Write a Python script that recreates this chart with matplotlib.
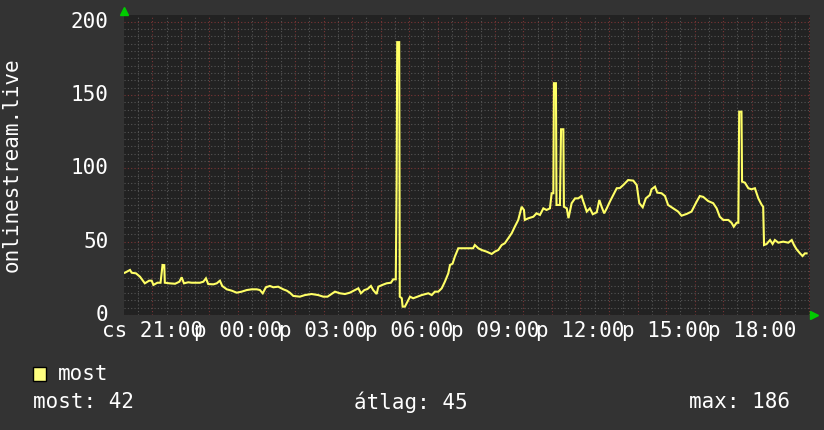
import matplotlib.pyplot as plt
from matplotlib.ticker import MultipleLocator

# time in hours counted from Thursday 00:00 (24 = Friday 00:00)
hours = [20.04, 20.22, 20.28, 20.43, 20.57, 20.74, 20.89, 20.98, 21.04, 21.18,
         21.29, 21.36, 21.42, 21.44, 21.60, 21.80, 21.95, 22.03, 22.11, 22.26,
         22.38, 22.67, 22.79, 22.88, 22.96, 23.14, 23.26, 23.37, 23.45, 23.61,
         23.78, 23.96, 24.13, 24.31, 24.48, 24.66, 24.77, 24.87, 24.98, 25.12,
         25.24, 25.41, 25.59, 25.71, 25.82, 25.94, 26.17, 26.35, 26.58, 26.81,
         26.99, 27.14, 27.28, 27.40, 27.57, 27.75, 27.92, 28.10, 28.22, 28.31,
         28.43, 28.54, 28.66, 28.74, 28.86, 28.92, 29.06, 29.21, 29.36, 29.44,
         29.53, 29.56, 29.58, 29.65, 29.67, 29.74, 29.77, 29.85, 30.03, 30.14,
         30.44, 30.67, 30.79, 30.90, 31.02, 31.14, 31.25, 31.37, 31.43, 31.52,
         31.60, 31.72, 31.89, 32.24, 32.30, 32.42, 32.54, 32.71, 32.89, 33.00,
         33.12, 33.24, 33.35, 33.47, 33.59, 33.70, 33.82, 33.94, 34.02, 34.05,
         34.17, 34.35, 34.46, 34.58, 34.70, 34.81, 34.93, 34.99, 35.05, 35.07,
         35.14, 35.16, 35.28, 35.32, 35.40, 35.42, 35.52, 35.58, 35.69, 35.81,
         35.92, 36.04, 36.10, 36.22, 36.33, 36.43, 36.57, 36.66, 36.74, 36.83,
         36.92, 37.03, 37.15, 37.27, 37.38, 37.50, 37.67, 37.85, 37.97, 38.06,
         38.18, 38.29, 38.43, 38.49, 38.61, 38.69, 38.84, 38.96, 39.07, 39.25,
         39.42, 39.54, 39.72, 39.89, 40.07, 40.18, 40.30, 40.47, 40.65, 40.77,
         40.88, 41.00, 41.18, 41.29, 41.37, 41.47, 41.53, 41.56, 41.64, 41.66,
         41.76, 41.88, 41.99, 42.11, 42.23, 42.35, 42.40, 42.43, 42.52, 42.64,
         42.73, 42.81, 42.93, 43.10, 43.28, 43.40, 43.48, 43.57, 43.69, 43.78,
         43.86, 43.92]
viewers = [28.8, 30.7, 28.8, 28.4, 26.1, 21.6, 23.4, 23.4, 20.5, 22.0,
           22.0, 34.1, 34.0, 22.0, 21.6, 21.3, 22.7, 25.7, 21.6, 22.3,
           22.0, 22.0, 22.7, 25.0, 21.1, 20.9, 21.6, 23.4, 19.8, 17.5,
           16.6, 15.2, 15.9, 17.0, 17.5, 17.5, 17.0, 14.8, 18.9, 19.8,
           18.9, 19.3, 17.5, 16.6, 15.2, 13.0, 12.5, 13.6, 14.3, 13.6,
           12.5, 12.5, 14.3, 15.9, 14.8, 14.3, 15.2, 17.0, 18.2, 14.8,
           17.0, 17.7, 19.8, 17.0, 14.3, 19.3, 20.5, 21.6, 22.0, 24.3,
           24.3, 89.8, 186.0, 186.0, 12.5, 11.4, 5.7, 5.7, 12.5, 11.4,
           13.6, 14.8, 13.6, 15.9, 15.9, 18.2, 22.7, 28.4, 34.1, 35.0,
           39.8, 45.5, 45.5, 45.5, 47.7, 45.5, 44.3, 43.2, 41.6, 43.2,
           44.3, 47.7, 48.9, 52.3, 55.7, 60.2, 64.8, 73.8, 71.6, 64.8,
           65.9, 67.0, 69.3, 68.2, 72.7, 71.6, 72.7, 83.0, 83.0, 158.0,
           158.0, 75.0, 75.0, 126.6, 126.6, 73.8, 72.7, 66.0, 76.2, 79.5,
           79.5, 81.1, 77.3, 70.5, 72.7, 68.7, 70.0, 78.4, 73.8, 69.3,
           72.7, 77.3, 81.8, 86.4, 86.5, 88.6, 92.0, 91.6, 88.6, 76.2,
           73.4, 79.5, 81.8, 85.7, 87.5, 83.4, 83.0, 81.1, 75.0, 72.7,
           70.5, 67.7, 68.9, 70.5, 77.3, 81.1, 80.5, 77.7, 76.2, 72.7,
           67.0, 64.8, 64.8, 62.9, 60.2, 62.9, 62.9, 138.6, 138.6, 90.9,
           90.2, 86.4, 85.7, 86.4, 79.5, 75.0, 73.8, 47.7, 48.4, 51.1,
           48.4, 51.1, 49.3, 50.0, 49.3, 51.1, 47.7, 44.8, 42.0, 40.2,
           42.0, 42.0]

tick_hours = [21, 24, 27, 30, 33, 36, 39, 42]
tick_labels = ['cs 21:00', 'p 00:00', 'p 03:00', 'p 06:00',
               'p 09:00', 'p 12:00', 'p 15:00', 'p 18:00']
y_ticks = [0, 50, 100, 150, 200]
source = 'onlinestream.live'
legend_name = 'most'
stats = ['most: 42', 'átlag: 45', 'max: 186']

mono = 'DejaVu Sans Mono'
fs = 15

fig = plt.figure(figsize=(8.24, 4.30), dpi=100, facecolor='#333333')
ax = fig.add_axes([124 / 824, 115 / 430, 686 / 824, 300 / 430])
ax.set_facecolor('#222222')

ax.set_xlim(20.01, 44.04)
ax.set_ylim(0, 204.5)

# minor / major grid like rrdtool
ax.xaxis.set_minor_locator(MultipleLocator(0.5))
ax.xaxis.set_major_locator(MultipleLocator(1))
ax.yaxis.set_minor_locator(MultipleLocator(5))
ax.yaxis.set_major_locator(MultipleLocator(50))
ax.grid(which='minor', color='#555555', linestyle=(0, (1, 2)), linewidth=0.8)
ax.grid(which='major', color='#7a3535', linestyle=(0, (1, 2)), linewidth=0.8)
ax.set_axisbelow(True)
ax.tick_params(which='both', length=0, labelbottom=False, labelleft=False)
for s in ax.spines.values():
    s.set_visible(False)

ax.plot(hours, viewers, color='#ffff66', linewidth=1.5, solid_joinstyle='miter')

# tick labels as text so they can overlap the same way
for h, lab in zip(tick_hours, tick_labels):
    ax.text(h, -4, lab, ha='center', va='top', color='white',
            family=mono, fontsize=fs, transform=ax.get_xaxis_transform() if False else ax.transData)
for v in y_ticks:
    ax.text(20.01 - 0.55, v, str(v), ha='right', va='center', color='white',
            family=mono, fontsize=fs, clip_on=False)

# green arrows at axis ends
ax.plot([0], [1.014], marker='^', color='#00cc00', markersize=6,
        transform=ax.transAxes, clip_on=False)
ax.plot([1.006], [0], marker='>', color='#00cc00', markersize=6,
        transform=ax.transAxes, clip_on=False)

fig.text(12 / 824, 1 - 165 / 430, source, rotation=90, ha='center', va='center',
         color='white', family=mono, fontsize=fs)

# legend area
fig.patches.append(plt.Rectangle((33 / 824, 1 - 381 / 430), 13 / 824, 14 / 430,
                                 transform=fig.transFigure, facecolor='#ffff80',
                                 edgecolor='black', linewidth=1))
fig.text(58 / 824, 1 - 374 / 430, legend_name, ha='left', va='center',
         color='white', family=mono, fontsize=fs)
fig.text(33 / 824, 1 - 402 / 430, stats[0], ha='left', va='center',
         color='white', family=mono, fontsize=fs)
fig.text(354 / 824, 1 - 402 / 430, stats[1], ha='left', va='center',
         color='white', family=mono, fontsize=fs)
fig.text(790 / 824, 1 - 402 / 430, stats[2], ha='right', va='center',
         color='white', family=mono, fontsize=fs)

fig.savefig('out.png', dpi=100, facecolor=fig.get_facecolor())
